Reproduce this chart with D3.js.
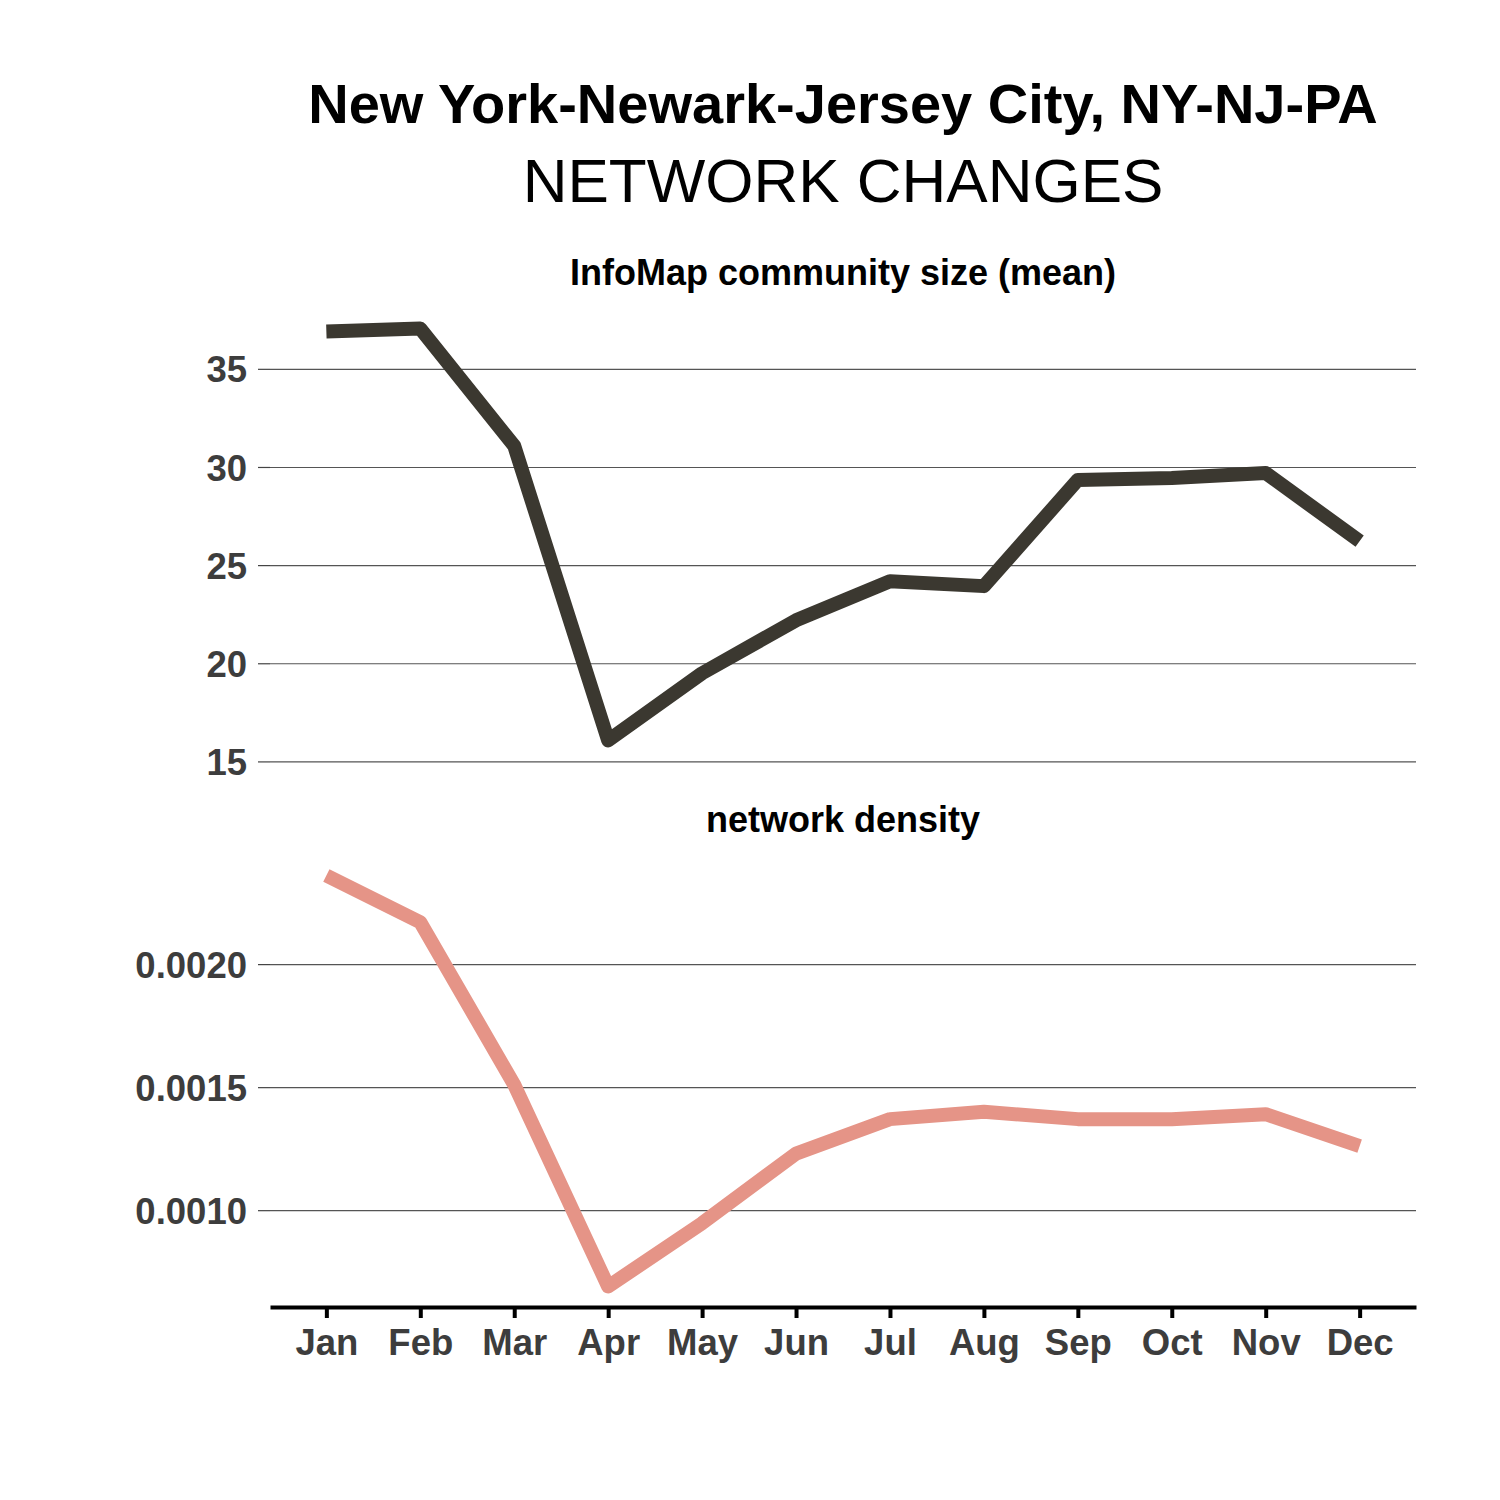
<!DOCTYPE html>
<html>
<head>
<meta charset="utf-8">
<script src="https://cdn.jsdelivr.net/npm/d3@7"></script>
<style>
  body { margin: 0; background: #fff; }
  text { font-family: "Liberation Sans", Arial, sans-serif; }
</style>
</head>
<body>
<div id="chart"></div>
<script>
const months = ["Jan", "Feb", "Mar", "Apr", "May", "Jun", "Jul", "Aug", "Sep", "Oct", "Nov", "Dec"];
const communitySize = [36.9, 37.05, 31.07, 16.07, 19.49, 22.19, 24.18, 23.93, 29.34, 29.44, 29.69, 26.22];
const density = [0.00236, 0.00217, 0.00151, 0.00069, 0.000947, 0.00123, 0.00137, 0.0014, 0.00137, 0.00137, 0.00139, 0.00126];
const sizeTicks = [15, 20, 25, 30, 35];
const densityTicks = [0.0010, 0.0015, 0.0020];

const svg = d3.select("#chart")
    .append("svg")
    .attr("width", 1500)
    .attr("height", 1500);

const left = 270, right = 1416;

const x = d3.scalePoint()
    .domain(months)
    .range([left, right])
    .padding(0.6);

// ggplot style 5% expansion
function padded(values) {
    const [lo, hi] = d3.extent(values);
    const pad = (hi - lo) * 0.05;
    return [lo - pad, hi + pad];
}

svg.append("text")
    .attr("x", 843)
    .attr("y", 123)
    .attr("text-anchor", "middle")
    .style("font-size", "56px")
    .style("font-weight", "bold")
    .attr("fill", "#000")
    .text("New York-Newark-Jersey City, NY-NJ-PA");

svg.append("text")
    .attr("x", 843)
    .attr("y", 202)
    .attr("text-anchor", "middle")
    .style("font-size", "62px")
    .attr("fill", "#000")
    .text("NETWORK CHANGES");

const panels = [
    { title: "InfoMap community size (mean)", values: communitySize, ticks: sizeTicks,
      fmt: d3.format("d"), color: "#3b3830", top: 308, bottom: 761, titleY: 285 },
    { title: "network density", values: density, ticks: densityTicks,
      fmt: d3.format(".4f"), color: "#e59487", top: 855, bottom: 1307, titleY: 832 }
];

panels.forEach(p => {
    const y = d3.scaleLinear()
        .domain(padded(p.values))
        .range([p.bottom, p.top]);

    svg.append("text")
        .attr("x", (left + right) / 2)
        .attr("y", p.titleY)
        .attr("text-anchor", "middle")
        .style("font-size", "36px")
        .style("font-weight", "bold")
        .attr("fill", "#000")
        .text(p.title);

    const yAxis = svg.append("g")
        .attr("transform", `translate(${left}, 0)`)
        .call(d3.axisLeft(y).tickValues(p.ticks).tickFormat(p.fmt)
            .tickSize(-(right - left)).tickSizeOuter(0).tickPadding(23));
    yAxis.select(".domain").remove();
    yAxis.selectAll("line")
        .attr("stroke", "#555")
        .attr("stroke-width", 1.2);
    yAxis.selectAll(".tick")
        .append("line")
        .attr("x1", -12)
        .attr("x2", 0)
        .attr("stroke", "#444")
        .attr("stroke-width", 1.2);
    yAxis.selectAll("text")
        .attr("fill", "#3d3d3d")
        .style("font-size", "36.5px")
        .style("font-weight", "bold")
        .attr("dy", "0.36em");

    const line = d3.line()
        .x((d, i) => x(months[i]))
        .y(d => y(d));

    svg.append("path")
        .datum(p.values)
        .attr("d", line)
        .attr("fill", "none")
        .attr("stroke", p.color)
        .attr("stroke-width", 14)
        .attr("stroke-linejoin", "round")
        .attr("stroke-linecap", "butt");
});

const xAxis = svg.append("g")
    .attr("transform", `translate(0, 1307)`)
    .call(d3.axisBottom(x).tickSize(11).tickSizeOuter(0).tickPadding(11));
xAxis.select(".domain")
    .attr("stroke", "#000")
    .attr("stroke-width", 4);
xAxis.selectAll(".tick line")
    .attr("stroke", "#000")
    .attr("stroke-width", 4);
xAxis.selectAll("text")
    .attr("fill", "#3d3d3d")
    .style("font-size", "36.5px")
    .style("font-weight", "bold");
</script>
</body>
</html>
